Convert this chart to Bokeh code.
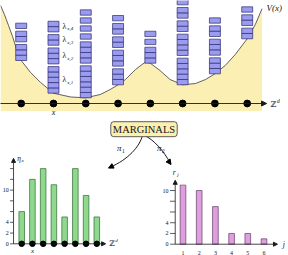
from bokeh.plotting import figure
from bokeh.models import Range1d, Arrow, NormalHead, Label
from bokeh.core.properties import value
from bokeh.embed import file_html
from bokeh.resources import INLINE

W, H = 288, 255
SERIF = value("Liberation Serif")
INK = "#151515"

# ---- particle configuration on Z^d ----
sites = [0, 1, 2, 3, 4, 5, 6, 7]
# block sizes at each site, bottom block first (lambda_{x,1}, lambda_{x,2}, ...)
site_blocks = [
    [3, 2, 1],
    [5, 3, 2, 2],
    [6, 4, 1, 1, 1, 1],
    [3, 3, 2, 2, 1],
    [3, 1, 1],
    [5, 4, 2, 2, 1],
    [3, 3, 2, 1],
    [2, 2, 1],
]
# potential V(x) at the sites (in block-height units)
v_site = [8.07, 1.93, 1.07, 3.51, 7.56, 3.51, 5.57, 12.14]
# potential curve sampled along the line
curve_s = [-0.64, -0.52, -0.39, -0.27, -0.15, 0.0, 0.29, 0.60, 1.0, 1.53, 2.0, 2.45,
           2.76, 3.0, 3.23, 3.54, 3.85, 4.0, 4.30, 4.61, 5.0, 5.40, 5.71, 6.0,
           6.32, 6.63, 7.0, 7.25, 7.46]
curve_v = [18.4, 16.7, 14.6, 12.6, 10.3, 8.07, 5.82, 3.94, 1.93, 1.22, 1.07, 1.69,
           2.63, 3.51, 4.50, 6.38, 7.79, 7.56, 6.19, 4.50, 3.51, 3.75, 4.50, 5.57,
           7.13, 9.19, 12.14, 14.8, 17.8]

# ---- marginals ----
eta = [6, 12, 14, 11, 5, 14, 9, 5]
eta_ticks = [0, 2, 4, 6, 8, 10, 12, 14]
eta_tick_labels = ["0", "2", "4", "", "", "10", "", ""]

r_index = [1, 2, 3, 4, 5, 6]
r_vals = [11, 10, 7, 2, 2, 1]
r_ticks = [0, 2, 4, 6, 8, 10]
r_tick_labels = ["0", "2", "4", "", "", "10"]


def x_range_through(v0, p0, v1, p1):
    k = (p1 - p0) / (v1 - v0)
    start = v0 - p0 / k
    return Range1d(start=start, end=start + W / k)


def y_range_through(v0, p0, v1, p1):
    # p measured downward from the top edge
    k = (p0 - p1) / (v1 - v0)
    start = v0 - (H - p0) / k
    return Range1d(start=start, end=start + H / k)


p = figure(width=W, height=H, output_backend="svg", toolbar_location=None,
           x_range=Range1d(0, W), y_range=Range1d(H, 0),
           x_axis_location=None, y_axis_location=None, min_border=0)
p.grid.visible = False
p.outline_line_color = None
p.background_fill_color = "white"

p.extra_x_ranges = {
    "top": x_range_through(0, 20.7, 7, 246.7),
    "eta": x_range_through(0, 21.2, 7, 96.3),
    "rj": x_range_through(1, 182.5, 6, 263.5),
}
p.extra_y_ranges = {
    "top": y_range_through(0, 103.0, 10, 49.7),
    "eta": y_range_through(0, 243.3, 10, 189.6),
    "rj": y_range_through(0, 243.7, 10, 190.0),
}

AX = "#1a1a1a"

# ================= top panel =================
T = dict(x_range_name="top", y_range_name="top")
fill_floor = -1.4
p.varea(x=curve_s, y1=[fill_floor] * len(curve_s), y2=curve_v,
        fill_color="#fcefb4", **T)
p.line(x=curve_s, y=curve_v, line_color="#3a3a3a", line_width=0.8, **T)

half_w, gap = 0.17, 0.5
bl, br, bb, bt = [], [], [], []
lam_y = []
for i, (floor, groups) in enumerate(zip(v_site, site_blocks)):
    y = floor
    for g in groups:
        if i == 1:
            lam_y.append(y + g / 2)
        for _ in range(g):
            bl.append(sites[i] - half_w)
            br.append(sites[i] + half_w)
            bb.append(y)
            bt.append(y + 1)
            y += 1
        y += gap
p.quad(left=bl, right=br, bottom=bb, top=bt, fill_color="#9b9bef",
       line_color="#2b2b6e", line_width=0.7, **T)

# axis Z^d with lattice points
p.add_layout(Arrow(end=NormalHead(size=5, fill_color=AX, line_color=AX),
                   x_start=-0.7, y_start=0, x_end=7.6, y_end=0,
                   line_color=AX, line_width=0.9, **T))
p.scatter(x=sites, y=[0] * len(sites), size=6.8, fill_color="black",
          line_color="black", **T)

lam_x = [1.28] * len(lam_y)
p.text(x=lam_x, y=lam_y, text=["\u03bb"] * len(lam_y), text_font=SERIF,
       text_font_size="8px", text_baseline="middle", text_color=INK, **T)
p.text(x=[v + 0.15 for v in lam_x], y=[v - 0.45 for v in lam_y],
       text=["x,%d" % (k + 1) for k in range(len(lam_y))], text_font=SERIF,
       text_font_size="5px", text_font_style="italic", text_baseline="middle",
       text_color=INK, **T)

# ================= canvas texts (top panel) =================
p.text(x=[53], y=[112], text=["x"], text_font=SERIF, text_font_size="8px",
       text_font_style="italic", text_align="center", text_baseline="middle",
       text_color=INK)
p.text(x=[266], y=[7], text=["V(x)"], text_font=SERIF, text_font_size="9px",
       text_font_style="italic", text_baseline="middle", text_color=INK)
p.text(x=[270], y=[104], text=["\u2124"], text_font=value("DejaVu Serif"),
       text_font_size="8px", text_baseline="middle", text_color=INK)
p.text(x=[276.5], y=[100], text=["d"], text_font=SERIF, text_font_size="5.5px",
       text_font_style="italic", text_baseline="middle", text_color=INK)

# ================= MARGINALS and projections =================
p.add_layout(Label(x=143.5, y=128.7, text="MARGINALS", text_font="Liberation Serif",
                   text_font_size="10.5px", text_align="center", text_baseline="middle",
                   text_color=INK,
                   background_fill_color="#fbefb2", border_line_color="#333333",
                   border_line_width=0.8, border_radius=3, padding=2))

p.bezier(x0=[142], y0=[135], x1=[109], y1=[167], cx0=[139], cy0=[146],
         cx1=[128], cy1=[159], line_color="black", line_width=0.9)
p.bezier(x0=[144], y0=[135], x1=[170], y1=[163], cx0=[153], cy0=[139],
         cx1=[163], cy1=[150], line_color="black", line_width=0.9)
p.add_layout(Arrow(end=NormalHead(size=5, fill_color="black", line_color="black"),
                   x_start=112, y_start=165.6, x_end=108, y_end=167.6, line_width=0.9))
p.add_layout(Arrow(end=NormalHead(size=5, fill_color="black", line_color="black"),
                   x_start=168, y_start=160.5, x_end=170.5, y_end=164, line_width=0.9))
p.text(x=[116.5, 156.5], y=[147.5, 147.5], text=["\u03c0", "\u03c0"], text_font=SERIF,
       text_font_size="9px", text_font_style="italic", text_baseline="middle",
       text_color=INK)
p.text(x=[121.5, 161.5], y=[150, 150], text=["1", "2"], text_font=SERIF,
       text_font_size="5.5px", text_baseline="middle", text_color=INK)

# ================= eta_x histogram =================
E = dict(x_range_name="eta", y_range_name="eta")
ey_axis_x = -0.76
p.quad(left=[s - 0.26 for s in sites], right=[s + 0.26 for s in sites],
       bottom=[0] * len(eta), top=eta, fill_color="#8fd98f",
       line_color="#2f6a2f", line_width=0.7, **E)
p.segment(x0=[ey_axis_x - 0.33] * len(eta_ticks), y0=eta_ticks,
          x1=[ey_axis_x] * len(eta_ticks), y1=eta_ticks, line_color=AX,
          line_width=0.7, **E)
p.text(x=[ey_axis_x - 0.45] * len(eta_ticks), y=eta_ticks, text=eta_tick_labels,
       text_font=SERIF, text_font_size="6px", text_align="right",
       text_baseline="middle", text_color=INK, **E)
p.add_layout(Arrow(end=NormalHead(size=4, fill_color=AX, line_color=AX),
                   x_start=ey_axis_x, y_start=0, x_end=ey_axis_x, y_end=15.9,
                   line_color=AX, line_width=0.8, **E))
p.add_layout(Arrow(end=NormalHead(size=4, fill_color=AX, line_color=AX),
                   x_start=ey_axis_x, y_start=0, x_end=7.82, y_end=0,
                   line_color=AX, line_width=0.8, **E))
p.scatter(x=sites, y=[0] * len(sites), size=5.5, fill_color="black",
          line_color="black", **E)
p.text(x=[1], y=[-1.3], text=["x"], text_font=SERIF, text_font_size="7px",
       text_font_style="italic", text_align="center", text_baseline="middle",
       text_color=INK, **E)
p.text(x=[ey_axis_x + 0.35], y=[15.9], text=["\u03b7"], text_font=SERIF,
       text_font_size="7.5px", text_font_style="italic", text_baseline="middle",
       text_color=INK, **E)
p.text(x=[ey_axis_x + 0.74], y=[15.5], text=["x"], text_font=SERIF,
       text_font_size="5px", text_font_style="italic", text_baseline="middle",
       text_color=INK, **E)
p.text(x=[8.15], y=[0], text=["\u2124"], text_font=value("DejaVu Serif"),
       text_font_size="7.5px", text_baseline="middle", text_color=INK, **E)
p.text(x=[8.72], y=[0.7], text=["d"], text_font=SERIF, text_font_size="5px",
       text_font_style="italic", text_baseline="middle", text_color=INK, **E)

# ================= r_j histogram =================
R = dict(x_range_name="rj", y_range_name="rj")
ry_axis_x = 0.52
p.quad(left=[j - 0.175 for j in r_index], right=[j + 0.175 for j in r_index],
       bottom=[0] * len(r_vals), top=r_vals, fill_color="#dda0dd",
       line_color="#6a3a6a", line_width=0.7, **R)
p.segment(x0=[ry_axis_x - 0.32] * len(r_ticks), y0=r_ticks,
          x1=[ry_axis_x] * len(r_ticks), y1=r_ticks, line_color=AX,
          line_width=0.7, **R)
p.text(x=[ry_axis_x - 0.42] * len(r_ticks), y=r_ticks, text=r_tick_labels,
       text_font=SERIF, text_font_size="6px", text_align="right",
       text_baseline="middle", text_color=INK, **R)
p.text(x=r_index, y=[-1.55] * len(r_index), text=[str(j) for j in r_index],
       text_font=SERIF, text_font_size="6px", text_align="center",
       text_baseline="middle", text_color=INK, **R)
p.add_layout(Arrow(end=NormalHead(size=4, fill_color=AX, line_color=AX),
                   x_start=ry_axis_x, y_start=0, x_end=ry_axis_x, y_end=11.9,
                   line_color=AX, line_width=0.8, **R))
p.add_layout(Arrow(end=NormalHead(size=4, fill_color=AX, line_color=AX),
                   x_start=ry_axis_x, y_start=0, x_end=6.83, y_end=0,
                   line_color=AX, line_width=0.8, **R))
p.text(x=[ry_axis_x - 0.15], y=[13.3], text=["r"], text_font=SERIF,
       text_font_size="7.5px", text_font_style="italic", text_baseline="middle",
       text_color=INK, **R)
p.text(x=[ry_axis_x + 0.13], y=[12.9], text=["j"], text_font=SERIF,
       text_font_size="5px", text_font_style="italic", text_baseline="middle",
       text_color=INK, **R)
p.text(x=[7.15], y=[0], text=["j"], text_font=SERIF, text_font_size="8px",
       text_font_style="italic", text_baseline="middle", text_color=INK, **R)

open("out.html", "w").write(file_html(p, INLINE))
